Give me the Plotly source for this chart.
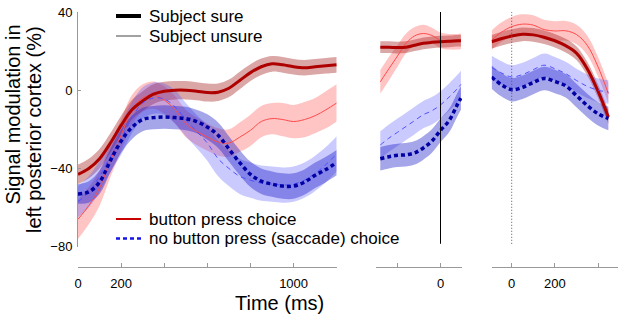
import plotly.graph_objects as go

# ---------------- data ----------------
# Panel 1: time from stimulus onset (ms)
t1 = [0, 50, 100, 150, 200, 250, 300, 350, 400, 450, 500, 550, 600, 650, 700, 750, 800, 850, 900, 950, 1000, 1050, 1100, 1150, 1200]
red_sure_1 = [-43, -40, -35, -27, -18, -10, -5.5, -2, -0.5, 0, 0, -0.5, -1.2, -1, 1, 5, 9, 12, 13.5, 13, 12, 11.5, 12, 12.5, 13]
red_sure_1_sem = [5, 5, 5, 5, 5, 5, 5, 5, 4.8, 4.7, 4.7, 4.6, 4.6, 4.5, 4.5, 4.5, 4.3, 4.2, 4, 4, 4, 4, 4, 4, 4]
red_unsure_1 = [-66, -59, -50, -36, -23, -10, -4, -2.5, -5, -10, -17, -21, -24, -26.5, -27, -24, -20.5, -16, -14.5, -15, -16, -15, -13, -10, -6.5]
red_unsure_1_sem = [10, 9.5, 9, 8.5, 8, 7.5, 7, 7, 7, 7, 7, 7, 7, 7, 7, 7.5, 8, 8, 8, 8.5, 8.5, 9, 9, 9.5, 9.5]
blue_sure_1 = [-53, -52, -47, -36, -26, -19, -15, -14, -13.7, -14, -14.5, -16, -18.8, -23, -30, -37, -43, -46.5, -48, -49, -49, -47, -43.5, -40.5, -37]
blue_sure_1_sem = [5, 5.5, 6, 6, 6, 6, 6, 6, 6, 6, 6, 6, 6.5, 6.5, 6.5, 6.5, 6.5, 6.5, 6.5, 6.5, 6.5, 6.5, 6.5, 6.5, 6.5]
blue_unsure_1 = [-57, -52, -44, -34, -25, -14, -6.5, -4, -4.5, -8.5, -15, -21, -27, -35, -40, -44, -46, -47.5, -48, -48.5, -48, -46, -42.5, -38, -32.5]
blue_unsure_1_sem = [8, 8, 8, 8, 8, 8, 8, 8, 8, 8.5, 8.5, 8.5, 9, 9, 9, 9, 9, 9, 9, 9, 9, 9, 9, 9, 9]

# Panel 2: time relative to button press (ms)
t2 = [-280, -240, -200, -160, -120, -80, -40, 0, 40, 80, 95]
red_sure_2 = [22, 22, 21.8, 22, 23, 24, 24.5, 24.8, 25, 25.3, 25.3]
red_sure_2_sem = [3, 3, 3, 3, 3, 3, 3, 3, 3, 3, 3]
red_unsure_2 = [4.3, 11, 17.5, 24, 27.8, 29, 28, 25.5, 24.8, 24.8, 25]
red_unsure_2_sem = [6, 6, 5.5, 5, 4.5, 4.5, 4, 4, 4, 4, 4]
blue_sure_2 = [-35, -34, -33.3, -33, -32, -29.5, -26, -20.5, -15.5, -7, -4]
blue_sure_2_sem = [6, 6, 6, 6, 6, 6, 6, 6, 6, 6, 6]
blue_unsure_2 = [-28, -24.5, -21.5, -18.5, -15.5, -12.5, -10.5, -7.5, -3.5, 1, 3]
blue_unsure_2_sem = [7, 7, 7, 7, 7, 7, 7, 7, 7, 7, 7]

# Panel 3: time relative to response (ms)
t3 = [-93, -50, 0, 50, 100, 150, 200, 250, 300, 350, 400, 448]
red_sure_3 = [24.8, 26.3, 27.7, 28.6, 28.3, 27.1, 25.3, 22.8, 19, 11, -0.5, -13.7]
red_sure_3_sem = [3.5, 3.5, 3.5, 3.5, 3.5, 3.5, 3.5, 3.5, 3.5, 3.5, 3.5, 3.5]
red_unsure_3 = [25.6, 29.5, 32.5, 33.8, 33.3, 31, 30.3, 30.4, 28.5, 23, 12, -1.7]
red_unsure_3_sem = [5, 5, 5, 5, 5, 5, 5, 5, 5, 5, 5, 5]
blue_sure_3 = [6.8, 3, 0.3, 1.5, 4, 6, 4.5, 2.3, -2.7, -7.8, -12, -14.5]
blue_sure_3_sem = [6, 6, 6, 6, 6, 6, 6, 6, 6, 6, 6, 6]
blue_unsure_3 = [11.6, 9, 6.8, 8, 10.5, 12.8, 11, 8.5, 5, 2, 0, -0.9]
blue_unsure_3_sem = [6, 6, 6, 6, 6, 6, 6, 6, 6, 6, 6, 6]

x1_ticks = [0, 200, 400, 600, 800, 1000]
x1_labels = ["0", "200", "", "", "", "1000"]
x2_ticks = [-200, 0]
x2_labels = ["", "0"]
x3_ticks = [0, 200, 400]
x3_labels = ["0", "200", ""]
y_ticks = [-80, -40, 0, 40]

# ---------------- styles ----------------
W, H = 624, 320
FONT = "Liberation Sans, Arial, Helvetica, sans-serif"

styles = {
    "red_unsure": dict(line=dict(color="rgb(255,75,75)", width=1), fill="rgba(255,80,80,0.33)"),
    "red_sure": dict(line=dict(color="rgb(175,0,0)", width=3), fill="rgba(160,20,20,0.38)"),
    "blue_unsure": dict(line=dict(color="rgb(80,80,255)", width=1, dash="5px,4px"), fill="rgba(80,80,255,0.30)"),
    "blue_sure": dict(line=dict(color="rgb(0,0,165)", width=3.5, dash="4px,3px"), fill="rgba(30,30,200,0.40)"),
}

panels = [
    ("x", "y", t1, {"red_unsure": (red_unsure_1, red_unsure_1_sem), "red_sure": (red_sure_1, red_sure_1_sem),
                    "blue_unsure": (blue_unsure_1, blue_unsure_1_sem), "blue_sure": (blue_sure_1, blue_sure_1_sem)}),
    ("x2", "y2", t2, {"red_unsure": (red_unsure_2, red_unsure_2_sem), "red_sure": (red_sure_2, red_sure_2_sem),
                      "blue_unsure": (blue_unsure_2, blue_unsure_2_sem), "blue_sure": (blue_sure_2, blue_sure_2_sem)}),
    ("x3", "y3", t3, {"red_unsure": (red_unsure_3, red_unsure_3_sem), "red_sure": (red_sure_3, red_sure_3_sem),
                      "blue_unsure": (blue_unsure_3, blue_unsure_3_sem), "blue_sure": (blue_sure_3, blue_sure_3_sem)}),
]

fig = go.Figure()
order = ["red_unsure", "red_sure", "blue_unsure", "blue_sure"]
for xa, ya, t, series in panels:
    # bands
    for key in order:
        m, s = series[key]
        lo = [a - b for a, b in zip(m, s)]
        hi = [a + b for a, b in zip(m, s)]
        fig.add_trace(go.Scatter(x=t, y=lo, mode="lines", line=dict(width=0, shape="spline"),
                                 xaxis=xa, yaxis=ya, showlegend=False, hoverinfo="skip"))
        fig.add_trace(go.Scatter(x=t, y=hi, mode="lines", line=dict(width=0, shape="spline"),
                                 fill="tonexty", fillcolor=styles[key]["fill"],
                                 xaxis=xa, yaxis=ya, showlegend=False, hoverinfo="skip"))
    # mean lines
    for key in order:
        m, s = series[key]
        ln = dict(styles[key]["line"])
        ln["shape"] = "spline"
        fig.add_trace(go.Scatter(x=t, y=m, mode="lines", line=ln, xaxis=xa, yaxis=ya,
                                 showlegend=False, hoverinfo="skip"))

def px(v):
    return v / W

def py(v):
    return 1 - v / H

y_dom = [py(246.7), py(12)]
x_pos = py(267)
axis_color = "#999999"

common_x = dict(anchor="free", position=x_pos, showline=True, linecolor=axis_color, linewidth=1,
                ticks="inside", ticklen=4, tickcolor=axis_color, showgrid=False, zeroline=False,
                automargin=False,
                tickfont=dict(family=FONT, size=13, color="black"), ticklabelstandoff=4)

fig.update_layout(
    width=W, height=H, margin=dict(l=0, r=0, t=0, b=0, autoexpand=False),
    paper_bgcolor="white", plot_bgcolor="white", showlegend=False,
    xaxis=dict(domain=[px(78), px(336.7)], range=[0, 1200], tickmode="array",
               tickvals=x1_ticks, ticktext=x1_labels, **common_x),
    xaxis2=dict(domain=[px(376), px(462)], range=[-300, 100], tickmode="array",
                tickvals=x2_ticks, ticktext=x2_labels, **common_x),
    xaxis3=dict(domain=[px(491.7), px(618)], range=[-92.6, 492.6], tickmode="array",
                tickvals=x3_ticks, ticktext=x3_labels, **common_x),
    yaxis=dict(domain=y_dom, range=[-80, 40], anchor="x", showline=True, linecolor=axis_color,
               ticks="inside", ticklen=3, tickcolor=axis_color, tickmode="array", tickvals=y_ticks,
               showgrid=False, zeroline=False, automargin=False,
               tickfont=dict(family=FONT, size=13, color="black"), ticklabelstandoff=2),
    yaxis2=dict(domain=y_dom, range=[-80, 40], anchor="x2", visible=False, automargin=False),
    yaxis3=dict(domain=y_dom, range=[-80, 40], anchor="x3", visible=False, automargin=False),
)

# event lines
fig.add_shape(type="line", xref="x2", yref="y2", x0=0, x1=0, y0=-78.5, y1=40,
              line=dict(color="black", width=1))
fig.add_shape(type="line", xref="x3", yref="y3", x0=0, x1=0, y0=-78.5, y1=40,
              line=dict(color="#555555", width=1, dash="1px,2px"))

# legend keys (paper coords)
legend_items = [
    (16, "Subject sure", dict(color="black", width=4)),
    (36, "Subject unsure", dict(color="#444444", width=1)),
    (219, "button press choice", dict(color="rgb(200,0,0)", width=2)),
    (238.5, "no button press (saccade) choice", dict(color="rgb(20,20,230)", width=2.5, dash="4px,3px")),
]
for yy, txt, ln in legend_items:
    fig.add_shape(type="line", xref="paper", yref="paper", x0=px(116), x1=px(141), y0=py(yy), y1=py(yy), line=ln)
    fig.add_annotation(xref="paper", yref="paper", x=px(147), y=py(yy), text=txt, showarrow=False,
                       xanchor="left", yanchor="middle", font=dict(family=FONT, size=17, color="black"))

# axis titles
fig.add_annotation(xref="paper", yref="paper", x=px(279), y=py(303), text="Time (ms)", showarrow=False,
                   xanchor="center", yanchor="middle", font=dict(family=FONT, size=20, color="black"))
fig.add_annotation(xref="paper", yref="paper", x=px(12.5), y=py(115), text="Signal modulation in",
                   showarrow=False, textangle=-90, xanchor="center", yanchor="middle",
                   font=dict(family=FONT, size=20, color="black"))
fig.add_annotation(xref="paper", yref="paper", x=px(34), y=py(130), text="left posterior cortex (%)",
                   showarrow=False, textangle=-90, xanchor="center", yanchor="middle",
                   font=dict(family=FONT, size=20, color="black"))

fig.write_html("out.html", config={"displayModeBar": False},
               post_script="document.body.style.margin='0px';")
